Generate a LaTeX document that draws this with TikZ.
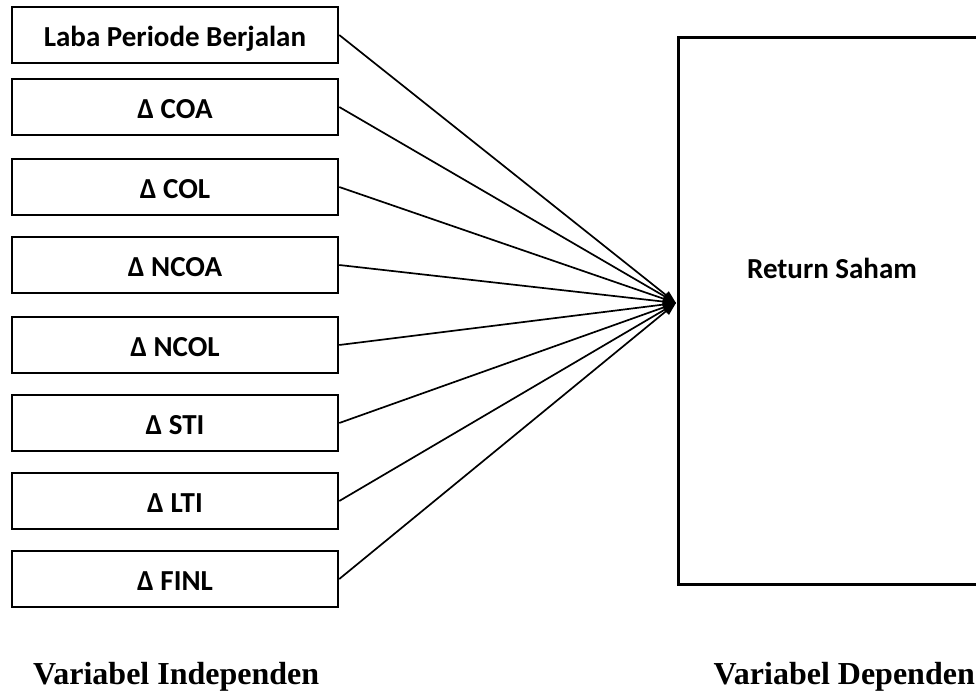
\documentclass[tikz,border=0pt]{standalone}
\usepackage{fontspec}
\usetikzlibrary{arrows.meta}
\newfontfamily\boxfont{Carlito}
\newfontfamily\timesfont{Liberation Serif}

\begin{document}
\begin{tikzpicture}[x=1pt,y=-1pt,
  varbox/.style={draw,line width=2.5pt,minimum width=326pt,minimum height=56pt,
    inner sep=0pt,text height=22pt,text depth=0pt,
    font=\boxfont\bfseries\fontsize{29}{33}\selectfont},
  link/.style={line width=1.7pt,-{Triangle[length=13pt,width=9pt]}},
  caption/.style={inner sep=0pt,font=\timesfont\bfseries\fontsize{32}{36}\selectfont}]
\clip (0,0) rectangle (976,691);
% independent variables:
\node[varbox] (laba) at (175,35) {Laba Periode Berjalan};
\node[varbox] (coa) at (175,107) {Δ COA};
\node[varbox] (col) at (175,187) {Δ COL};
\node[varbox] (ncoa) at (175,265) {Δ NCOA};
\node[varbox] (ncol) at (175,345) {Δ NCOL};
\node[varbox] (sti) at (175,423) {Δ STI};
\node[varbox] (lti) at (175,501) {Δ LTI};
\node[varbox] (finl) at (175,579) {Δ FINL};
% dependent variable:
\node[draw,line width=3pt,minimum width=330pt,minimum height=547pt] (ret) at (843,310.5) {};
\node[anchor=base,inner sep=0pt,font=\boxfont\bfseries\fontsize{29}{33}\selectfont] (retlabel) at (832,278) {Return Saham};
\coordinate (hub) at (676,303);
% connectors:
\draw[link] (laba.east) -- (hub);
\draw[link] (coa.east) -- (hub);
\draw[link] (col.east) -- (hub);
\draw[link] (ncoa.east) -- (hub);
\draw[link] (ncol.east) -- (hub);
\draw[link] (sti.east) -- (hub);
\draw[link] (lti.east) -- (hub);
\draw[link] (finl.east) -- (hub);
% captions:
\node[caption,anchor=base west] (indep) at (33,684) {Variabel Independen};
\node[caption,anchor=base east] (dep) at (975,684) {Variabel Dependen};
\end{tikzpicture}
\end{document}
